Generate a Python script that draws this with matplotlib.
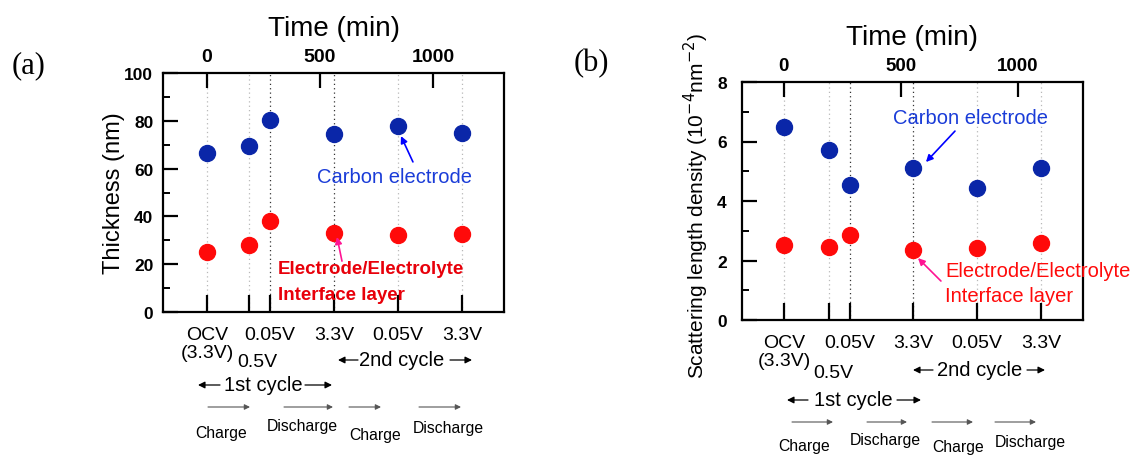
import numpy as np
import matplotlib.pyplot as plt
from matplotlib.ticker import MultipleLocator

plt.rcParams['font.family'] = ['Liberation Sans', 'DejaVu Sans']

# tiempos (min) y valores
t_a = [0, 186, 279, 562, 845, 1128]
carbon_a = [66.5, 69.5, 80.3, 74.5, 78.0, 74.8]
interface_a = [25.2, 28.2, 38.2, 33.0, 32.3, 32.5]

t_b = [0, 192, 282, 551, 825, 1098]
carbon_b = [6.48, 5.71, 4.54, 5.12, 4.44, 5.10]
interface_b = [2.53, 2.44, 2.86, 2.35, 2.42, 2.60]

volt_labels = ['OCV\n(3.3V)', '0.5V', '0.05V', '3.3V', '0.05V', '3.3V']
dark_lines = [2, 3]

W, H = 1141, 456
BLUE = '#0a26a8'
RED = '#ff0a0a'

fig = plt.figure(figsize=(W / 100, H / 100), dpi=100)
ax_a = fig.add_axes([163 / W, (H - 313) / H, 341 / W, 239 / H])
ax_b = fig.add_axes([742 / W, (H - 321) / H, 341 / W, 238 / H])


def fpx(x, y):
    return (x, H - y)


def setup(ax, t, xlim, ylim, ymaj, ymin, ylabel, ylsize, ypad, xtsize):
    ax.set_xlim(*xlim)
    ax.set_ylim(*ylim)
    for s in ax.spines.values():
        s.set_linewidth(1.6)
    ax.xaxis.tick_top()
    ax.xaxis.set_label_position('top')
    ax.set_xticks([0, 500, 1000])
    ax.tick_params(axis='x', direction='in', length=11, width=1.6, pad=6,
                   labelsize=xtsize)
    for lab in ax.get_xticklabels():
        lab.set_fontweight('bold')
    ax.set_xlabel('Time (min)', fontsize=20, labelpad=9)
    ax.yaxis.set_major_locator(MultipleLocator(ymaj))
    ax.yaxis.set_minor_locator(MultipleLocator(ymin))
    ax.tick_params(axis='y', which='major', direction='in', length=11,
                   width=1.6, pad=ypad, labelsize=12.5)
    ax.tick_params(axis='y', which='minor', direction='in', length=5,
                   width=1.4)
    for lab in ax.get_yticklabels():
        lab.set_fontweight('bold')
    ax.set_ylabel(ylabel, fontsize=ylsize)
    # ticks de abajo en cada medida
    sec = ax.secondary_xaxis('bottom')
    sec.set_xticks(t)
    sec.set_xticklabels([''] * len(t))
    sec.tick_params(direction='in', length=12, width=1.6)
    sec.spines['bottom'].set_visible(False)
    for i, x in enumerate(t):
        c = '#333333' if i in dark_lines else '#b8b8b8'
        ax.axvline(x, ls=(0, (1, 2.5)), color=c, lw=0.9, zorder=0)


def volt_text(ax, t, lowdy, dy, dx05):
    for i, (x, lab) in enumerate(zip(t, volt_labels)):
        off = (dx05, -lowdy) if lab == '0.5V' else (0, -dy)
        ax.annotate(lab, xy=(x, 0), xycoords=ax.get_xaxis_transform(),
                    xytext=off, textcoords='offset pixels', ha='center',
                    va='top', fontsize=14, linespacing=1.1)


def arrow(x1, x2, y, color='k', lw=0.9, ms=10):
    fig.add_artist(plt.Annotation('', xy=fpx(x2, y), xytext=fpx(x1, y),
                                  xycoords='figure pixels',
                                  textcoords='figure pixels',
                                  arrowprops=dict(arrowstyle='-|>', color=color,
                                                  lw=lw, mutation_scale=ms,
                                                  shrinkA=0, shrinkB=0)))


# (a)
setup(ax_a, t_a, (-195, 1314), (0, 100), 20, 10, 'Thickness (nm)', 17, 7, 14)
ax_a.plot(t_a, carbon_a, 'o', color=BLUE, ms=11.5, zorder=3)
ax_a.plot(t_a, interface_a, 'o', color=RED, ms=11.5, zorder=3)
ax_a.text(487, 56.5, 'Carbon electrode', color='#1a3cd8', fontsize=14.5,
          va='center')
ax_a.text(314, 18.0, 'Electrode/Electrolyte', color='#e8000a', fontsize=13.5,
          fontweight='bold', va='center')
ax_a.text(314, 7.5, 'Interface layer', color='#e8000a', fontsize=13.5,
          fontweight='bold', va='center')
ax_a.annotate('', xy=(858, 73.6), xytext=(911, 62.8),
              arrowprops=dict(arrowstyle='-|>', color='#0000ff', lw=1.2,
                              mutation_scale=10, shrinkA=0, shrinkB=0))
ax_a.annotate('', xy=(575, 31.4), xytext=(597, 21.3),
              arrowprops=dict(arrowstyle='-|>', color='#ff1493', lw=1.2,
                              mutation_scale=10, shrinkA=0, shrinkB=0))
volt_text(ax_a, t_a, 41, 14, 8)
ax_a.yaxis.set_label_coords(-0.11, 0.5)

fig.text(12 / W, 1 - 66 / H, '(a)', family='Liberation Serif', fontsize=22,
         va='center')
arrow(220, 198, 386)
fig.text(263 / W, 1 - 386 / H, '1st cycle', fontsize=14.5, ha='center',
         va='center')
arrow(305, 332, 386)
arrow(358, 338, 361)
fig.text(402 / W, 1 - 361 / H, '2nd cycle', fontsize=14.5, ha='center',
         va='center')
arrow(450, 472, 361)
for x1, x2 in [(208, 250), (284, 333), (349, 381), (419, 461)]:
    arrow(x1, x2, 408, color='#555555', lw=0.8, ms=8)
for x, y, s in [(221, 434, 'Charge'), (302, 427, 'Discharge'),
                (375, 436, 'Charge'), (448, 429, 'Discharge')]:
    fig.text(x / W, 1 - y / H, s, fontsize=11.3, ha='center', va='center')

# (b)
setup(ax_b, t_b, (-179, 1278), (0, 8), 2, 1,
      'Scattering length density (10$^{-4}$nm$^{-2}$)', 15, 11, 13.5)
ax_b.plot(t_b, carbon_b, 'o', color=BLUE, ms=11.5, zorder=3)
ax_b.plot(t_b, interface_b, 'o', color=RED, ms=11.5, zorder=3)
ax_b.text(466, 6.82, 'Carbon electrode', color='#1a3cd8', fontsize=14.5,
          va='center')
ax_b.text(688, 1.68, 'Electrode/Electrolyte', color='#ff0a0a', fontsize=14.5,
          va='center')
ax_b.text(688, 0.81, 'Interface layer', color='#ff0a0a', fontsize=14.5,
          va='center')
ax_b.annotate('', xy=(607, 5.31), xytext=(731, 6.35),
              arrowprops=dict(arrowstyle='-|>', color='#0000ff', lw=1.2,
                              mutation_scale=10, shrinkA=0, shrinkB=0))
ax_b.annotate('', xy=(573, 2.08), xytext=(671, 1.31),
              arrowprops=dict(arrowstyle='-|>', color='#ff1493', lw=1.2,
                              mutation_scale=10, shrinkA=0, shrinkB=0))
volt_text(ax_b, t_b, 44, 14, 4)
ax_b.yaxis.set_label_coords(-0.09, 0.485)

fig.text(574 / W, 1 - 64 / H, '(b)', family='Liberation Serif', fontsize=22,
         va='center')
arrow(808, 787, 401)
fig.text(853 / W, 1 - 401 / H, '1st cycle', fontsize=14.5, ha='center',
         va='center')
arrow(897, 921, 401)
arrow(933, 913, 371)
fig.text(980 / W, 1 - 371 / H, '2nd cycle', fontsize=14.5, ha='center',
         va='center')
arrow(1027, 1045, 371)
for x1, x2 in [(792, 833), (867, 907), (932, 973), (995, 1036)]:
    arrow(x1, x2, 423, color='#555555', lw=0.8, ms=8)
for x, y, s in [(804, 447, 'Charge'), (885, 441, 'Discharge'),
                (958, 448, 'Charge'), (1030, 443, 'Discharge')]:
    fig.text(x / W, 1 - y / H, s, fontsize=11.3, ha='center', va='center')

fig.savefig('out.png', dpi=100)
